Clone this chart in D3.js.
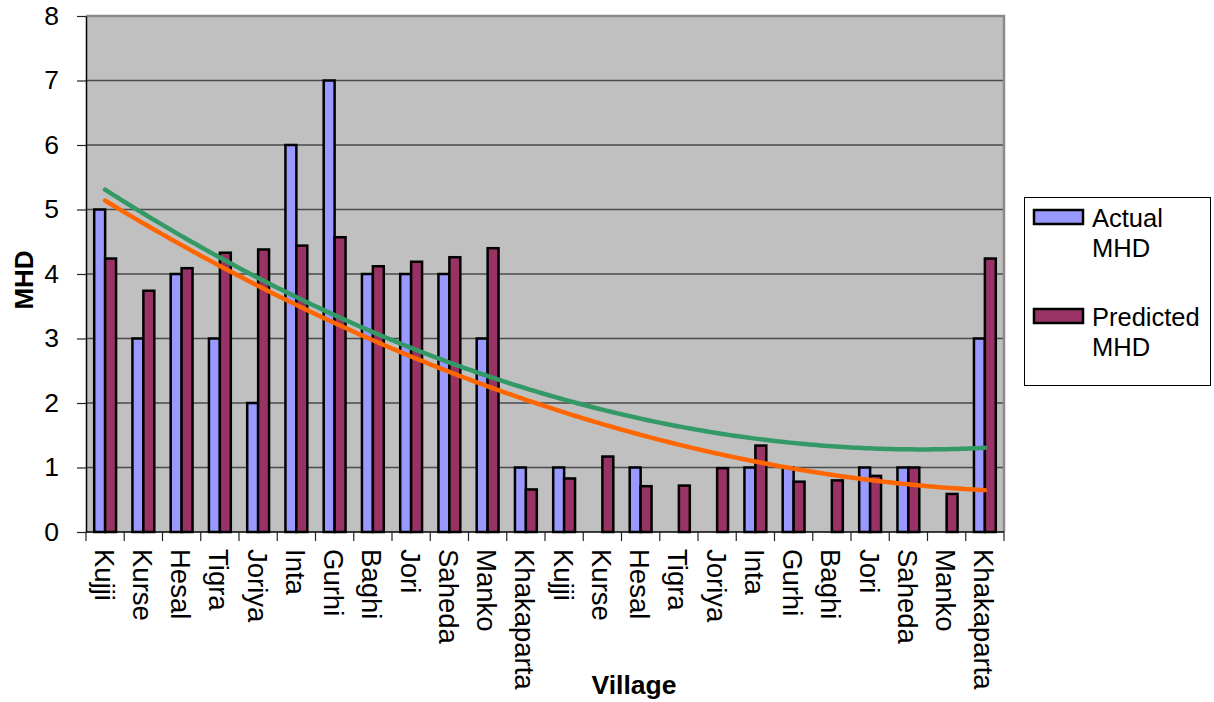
<!DOCTYPE html>
<html>
<head>
<meta charset="utf-8">
<script src="https://cdn.jsdelivr.net/npm/d3@7/dist/d3.min.js"></script>
<style>
  html, body { margin: 0; padding: 0; background: #fff; }
  svg { display: block; font-family: "Liberation Sans", Arial, sans-serif; }
</style>
</head>
<body>
<svg id="chart" width="1214" height="702"></svg>
<script>
// Village names along the x axis (the list of villages appears twice)
const villages = ["Kujji", "Kurse", "Hesal", "Tigra", "Joriya", "Inta", "Gurhi", "Baghi",
  "Jori", "Saheda", "Manko", "Khakaparta",
  "Kujji", "Kurse", "Hesal", "Tigra", "Joriya", "Inta", "Gurhi", "Baghi",
  "Jori", "Saheda", "Manko", "Khakaparta"];

// Observed MHD per village
const actualMHD = [5, 3, 4, 3, 2, 6, 7, 4, 4, 4, 3, 1,
  1, 0, 1, 0, 0, 1, 1, 0, 1, 1, 0, 3];

// Model-predicted MHD per village
const predictedMHD = [4.24, 3.74, 4.09, 4.33, 4.38, 4.44, 4.57, 4.12, 4.19, 4.26, 4.40, 0.66,
  0.83, 1.17, 0.71, 0.72, 0.99, 1.34, 0.78, 0.80, 0.87, 1.00, 0.59, 4.24];

const yTicks = [0, 1, 2, 3, 4, 5, 6, 7, 8];
const seriesNames = ["Actual MHD", "Predicted MHD"];

const colors = { actual: "#9999FF", predicted: "#993366", trendActual: "#FF6600", trendPredicted: "#339966" };

const svg = d3.select("#chart");
const plot = { left: 86, right: 1004, top: 16, bottom: 532 };

const idx = villages.map((_, i) => i);
const x = d3.scaleBand().domain(idx).range([plot.left, plot.right]).paddingInner(0).paddingOuter(0);
const y = d3.scaleLinear().domain([0, 8]).range([plot.bottom, plot.top]);

// Clustered bars: two bars per category, gap of 150% of a bar width
const barW = x.bandwidth() / 3.5;
const gap = (x.bandwidth() - 2 * barW) / 2;

// Plot area background
svg.append("rect")
  .attr("x", plot.left).attr("y", plot.top)
  .attr("width", plot.right - plot.left).attr("height", plot.bottom - plot.top)
  .attr("fill", "#C0C0C0");

// Horizontal gridlines
svg.append("g").selectAll("line")
  .data(yTicks.filter(v => v > 0 && v < 8))
  .join("line")
  .attr("x1", plot.left).attr("x2", plot.right)
  .attr("y1", d => y(d)).attr("y2", d => y(d))
  .attr("stroke", "#4a4a4a").attr("stroke-width", 1.4);

// Plot area top/right border
svg.append("path")
  .attr("d", `M${plot.left},${y(8)}H${plot.right}V${plot.bottom}`)
  .attr("fill", "none").attr("stroke", "#8a8a8a").attr("stroke-width", 2.5);

// Bars
const barData = [];
idx.forEach(i => {
  barData.push({ i, s: 0, v: actualMHD[i] });
  barData.push({ i, s: 1, v: predictedMHD[i] });
});
svg.append("g").selectAll("rect")
  .data(barData.filter(d => d.v > 0))
  .join("rect")
  .attr("x", d => x(d.i) + gap + d.s * barW)
  .attr("y", d => y(d.v))
  .attr("width", barW)
  .attr("height", d => y(0) - y(d.v))
  .attr("fill", d => d.s === 0 ? colors.actual : colors.predicted)
  .attr("stroke", "#000").attr("stroke-width", 2.5);

// Second-order polynomial least-squares trendline over category positions 1..n
function quadFit(values) {
  const S = [0, 0, 0, 0, 0], T = [0, 0, 0];
  values.forEach((v, k) => {
    const t = k + 1;
    for (let p = 0; p <= 4; p++) S[p] += Math.pow(t, p);
    for (let p = 0; p <= 2; p++) T[p] += v * Math.pow(t, p);
  });
  const M = [[S[0], S[1], S[2], T[0]], [S[1], S[2], S[3], T[1]], [S[2], S[3], S[4], T[2]]];
  for (let c = 0; c < 3; c++) {
    for (let r = c + 1; r < 3; r++) {
      const f = M[r][c] / M[c][c];
      for (let k = c; k < 4; k++) M[r][k] -= f * M[c][k];
    }
  }
  const coef = [0, 0, 0];
  for (let r = 2; r >= 0; r--) {
    let s = M[r][3];
    for (let k = r + 1; k < 3; k++) s -= M[r][k] * coef[k];
    coef[r] = s / M[r][r];
  }
  return t => coef[0] + coef[1] * t + coef[2] * t * t;
}

const xPos = d3.scaleLinear().domain([1, villages.length])
  .range([x(0) + x.bandwidth() / 2, x(villages.length - 1) + x.bandwidth() / 2]);
const samples = d3.range(1, villages.length + 0.001, 0.1);
const trendLine = d3.line().x(d => xPos(d[0])).y(d => y(d[1])).curve(d3.curveMonotoneX);

[[predictedMHD, colors.trendPredicted], [actualMHD, colors.trendActual]].forEach(([vals, col]) => {
  const f = quadFit(vals);
  svg.append("path")
    .datum(samples.map(t => [t, f(t)]))
    .attr("d", trendLine)
    .attr("fill", "none").attr("stroke", col).attr("stroke-width", 4.5)
    .attr("stroke-linecap", "round");
});

// Y axis
const yAxis = svg.append("g")
  .attr("transform", `translate(${plot.left},0)`)
  .call(d3.axisLeft(y).tickValues(yTicks).tickSize(9).tickPadding(18).tickSizeOuter(0));
yAxis.select(".domain").attr("stroke", "#000").attr("stroke-width", 1.5);
yAxis.selectAll(".tick line").attr("stroke", "#222").attr("stroke-width", 1.2);
yAxis.selectAll(".tick text")
  .attr("font-size", 26.5).attr("fill", "#000")
  .attr("font-family", "Liberation Sans, Arial, sans-serif");

// X axis line and category-boundary ticks
svg.append("line")
  .attr("x1", plot.left).attr("x2", plot.right)
  .attr("y1", plot.bottom).attr("y2", plot.bottom)
  .attr("stroke", "#000").attr("stroke-width", 1.5);
const bounds = idx.map(i => x(i)).concat([plot.right]);
svg.append("g").selectAll("line")
  .data(bounds)
  .join("line")
  .attr("x1", d => d).attr("x2", d => d)
  .attr("y1", plot.bottom).attr("y2", plot.bottom + 9)
  .attr("stroke", "#222").attr("stroke-width", 1.2);

// Rotated village labels
svg.append("g").selectAll("text")
  .data(idx)
  .join("text")
  .attr("transform", i => `translate(${x(i) + x.bandwidth() / 2},549) rotate(90)`)
  .attr("x", 0).attr("y", 10.5)
  .attr("font-size", 27.5)
  .attr("fill", "#000")
  .text(i => villages[i]);

// Axis titles
svg.append("text")
  .attr("x", 634).attr("y", 694)
  .attr("text-anchor", "middle")
  .attr("font-size", 26.5).attr("font-weight", "bold")
  .text("Village");

svg.append("text")
  .attr("transform", "translate(33,280) rotate(-90)")
  .attr("text-anchor", "middle")
  .attr("font-size", 26).attr("font-weight", "bold")
  .text("MHD");

// Legend
const legend = svg.append("g");
legend.append("rect")
  .attr("x", 1024.5).attr("y", 197.5).attr("width", 186).attr("height", 188)
  .attr("fill", "#fff").attr("stroke", "#000").attr("stroke-width", 1);

const legendItems = [
  { name: seriesNames[0], color: colors.actual, top: 210 },
  { name: seriesNames[1], color: colors.predicted, top: 309 }
];
legendItems.forEach(d => {
  legend.append("rect")
    .attr("x", 1034).attr("y", d.top).attr("width", 49).attr("height", 14)
    .attr("fill", d.color).attr("stroke", "#000").attr("stroke-width", 2.5);
  const words = d.name.split(" ");
  const t = legend.append("text")
    .attr("x", 1092).attr("y", d.top + 16.5)
    .attr("font-size", 25.5).attr("fill", "#000");
  words.forEach((w, k) => {
    t.append("tspan").attr("x", 1092).attr("dy", k === 0 ? 0 : 30.5).text(w);
  });
});
</script>
</body>
</html>
